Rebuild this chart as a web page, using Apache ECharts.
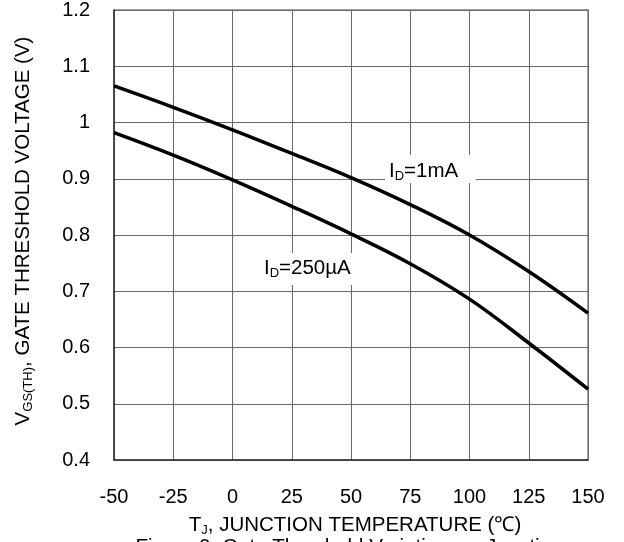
<!DOCTYPE html>
<html>
<head>
<meta charset="utf-8">
<script src="https://cdn.jsdelivr.net/npm/echarts@6/dist/echarts.min.js"></script>
<style>
  html, body { margin: 0; padding: 0; background: #fff; }
  #chart { width: 624px; height: 542px; }
</style>
</head>
<body>
<div id="chart"></div>
<script>
// junction temperature (°C) and threshold voltage (V)
var temps = [-50, -25, 0, 25, 50, 75, 100, 125, 150];
var vth1mA = [1.065, 1.027, 0.987, 0.945, 0.902, 0.854, 0.800, 0.735, 0.661];
var vth250uA = [0.982, 0.942, 0.898, 0.851, 0.802, 0.749, 0.686, 0.608, 0.526];

function pairs(xs, ys) {
    return xs.map(function (x, i) { return [x, ys[i]]; });
}

var font = 'Liberation Sans, Arial, sans-serif';
var chart = echarts.init(document.getElementById('chart'));

// main text + subscript styles for rich labels
var rich = {
    m: { fontSize: 20.5, fontFamily: font, fill: '#000' },
    s: { fontSize: 13, fontFamily: font, fill: '#000', padding: [11, 0, 0, 0] }
};

var option = {
    backgroundColor: '#fff',
    animation: false,
    grid: {
        left: 114, right: 36, top: 10, bottom: 82,
        show: true,
        borderColor: '#808080',
        borderWidth: 1.5
    },
    xAxis: {
        type: 'value',
        min: -50, max: 150, interval: 25,
        axisLine: { show: true, onZero: false, lineStyle: { color: '#333', width: 1.5 } },
        axisTick: { show: false },
        axisLabel: { color: '#000', fontSize: 20, fontFamily: font, margin: 27 },
        splitLine: { show: true, lineStyle: { color: '#6a6a6a', width: 1 } }
    },
    yAxis: {
        type: 'value',
        min: 0.4, max: 1.2, interval: 0.1,
        axisLine: { show: true, onZero: false, lineStyle: { color: '#333', width: 1.5 } },
        axisTick: { show: false },
        axisLabel: { color: '#000', fontSize: 20, fontFamily: font, margin: 24 },
        splitLine: { show: true, lineStyle: { color: '#6a6a6a', width: 1 } }
    },
    series: [
        {
            name: 'ID=1mA',
            type: 'line',
            data: pairs(temps, vth1mA),
            smooth: 0.4,
            symbol: 'none',
            lineStyle: { color: '#000', width: 3.5 }
        },
        {
            name: 'ID=250uA',
            type: 'line',
            data: pairs(temps, vth250uA),
            smooth: 0.4,
            symbol: 'none',
            lineStyle: { color: '#000', width: 3.5 }
        }
    ],
    graphic: [
        // label boxes over the grid
        { type: 'rect', shape: { x: 385, y: 155, width: 91, height: 28 }, style: { fill: '#fff' }, z: 10 },
        {
            type: 'text', x: 389, y: 171, z: 11,
            style: { text: '{m|I}{s|D}{m|=1mA}', verticalAlign: 'middle', rich: rich }
        },
        { type: 'rect', shape: { x: 256, y: 253, width: 102, height: 32 }, style: { fill: '#fff' }, z: 10 },
        {
            type: 'text', x: 264, y: 268, z: 11,
            style: { text: '{m|I}{s|D}{m|=250µA}', verticalAlign: 'middle', rich: rich }
        },
        {
            type: 'text', x: 23, y: 231, rotation: Math.PI / 2,
            style: {
                text: '{m|V}{s|GS(TH)}{m|, GATE THRESHOLD VOLTAGE (V)}',
                align: 'center', verticalAlign: 'middle', rich: rich
            }
        },
        {
            type: 'text', x: 355, y: 525,
            style: {
                text: '{m|T}{s|J}{m|, JUNCTION TEMPERATURE (℃)}',
                align: 'center', verticalAlign: 'middle', rich: rich
            }
        },
        {
            type: 'text', x: 349, y: 537,
            style: {
                text: 'Figure 9. Gate Threshold Variation vs. Junction',
                align: 'center', verticalAlign: 'top',
                fontSize: 20.5, fontFamily: font, fill: '#000'
            }
        }
    ]
};

chart.setOption(option);
</script>
</body>
</html>
